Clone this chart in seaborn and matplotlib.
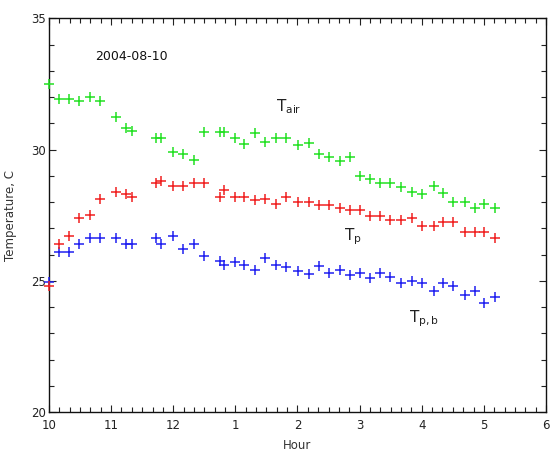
import numpy as np
import pandas as pd
import matplotlib
matplotlib.use("Agg")
import matplotlib.pyplot as plt
import seaborn as sns
from matplotlib.ticker import MultipleLocator

hours = [10.0, 10.16, 10.33, 10.49, 10.66, 10.82, 11.08, 11.24, 11.33, 11.72, 11.81,
         12.0, 12.16, 12.33, 12.5, 12.75, 12.82, 13.0, 13.14, 13.32, 13.48, 13.65,
         13.82, 14.01, 14.19, 14.35, 14.51, 14.68, 14.85, 15.0, 15.17, 15.33, 15.49,
         15.67, 15.84, 16.01, 16.19, 16.35, 16.51, 16.69, 16.85, 17.01, 17.18]

t_air = [32.5, 31.92, 31.92, 31.83, 32.02, 31.83, 31.23, 30.81, 30.71, 30.43, 30.43,
         29.92, 29.83, 29.6, 30.68, 30.68, 30.68, 30.43, 30.21, 30.62, 30.3, 30.43,
         30.43, 30.18, 30.26, 29.83, 29.71, 29.58, 29.73, 29.0, 28.87, 28.74, 28.72,
         28.59, 28.4, 28.31, 28.62, 28.34, 28.02, 28.02, 27.77, 27.93, 27.77]

t_p = [24.81, 26.41, 26.72, 27.39, 27.49, 28.11, 28.4, 28.31, 28.21, 28.72, 28.82,
       28.62, 28.62, 28.72, 28.72, 28.21, 28.44, 28.21, 28.21, 28.06, 28.11, 27.93,
       28.21, 28.02, 28.02, 27.9, 27.9, 27.77, 27.7, 27.7, 27.45, 27.45, 27.32,
       27.32, 27.39, 27.09, 27.09, 27.22, 27.22, 26.84, 26.84, 26.84, 26.63]

t_pb = [24.94, 26.09, 26.09, 26.41, 26.63, 26.63, 26.63, 26.41, 26.41, 26.63, 26.41,
        26.71, 26.21, 26.41, 25.93, 25.74, 25.61, 25.7, 25.61, 25.42, 25.86, 25.61,
        25.52, 25.39, 25.27, 25.57, 25.29, 25.42, 25.23, 25.29, 25.1, 25.29, 25.14,
        24.91, 25.01, 24.91, 24.6, 24.91, 24.81, 24.47, 24.6, 24.17, 24.4]

xtick_pos = [10, 11, 12, 13, 14, 15, 16, 17, 18]
xtick_labels = ["10", "11", "12", "1", "2", "3", "4", "5", "6"]
date_label = "2004-08-10"

df = pd.DataFrame({"hour": hours, "Tair": t_air, "Tp": t_p, "Tpb": t_pb})

sns.set_style("white")
plt.rcParams['font.family'] = ['DejaVu Sans']

fig = plt.figure(figsize=(5.51, 4.54), dpi=100)
ax = fig.add_axes([0.0889, 0.0925, 0.902, 0.8672])

green = "#22e022"
red = "#f02020"
blue = "#2020f0"

sns.scatterplot(data=df, x="hour", y="Tair", marker="+", s=50, color=green,
                linewidth=1.1, ax=ax, clip_on=False, zorder=3)
sns.scatterplot(data=df, x="hour", y="Tpb", marker="+", s=50, color=blue,
                linewidth=1.1, ax=ax, clip_on=False, zorder=3)
sns.scatterplot(data=df, x="hour", y="Tp", marker="+", s=50, color=red,
                linewidth=1.1, ax=ax, clip_on=False, zorder=3)

ax.set_xlim(10, 18)
ax.set_ylim(20, 35)
ax.set_xticks(xtick_pos)
ax.set_xticklabels(xtick_labels)
ax.set_yticks([20, 25, 30, 35])
ax.xaxis.set_minor_locator(MultipleLocator(1/6))
ax.yaxis.set_minor_locator(MultipleLocator(1))
ax.tick_params(which="both", direction="in", top=True, right=True,
               bottom=True, left=True, colors="#222222", labelsize=8.5,
               width=0.8)
ax.tick_params(axis="x", which="major", pad=5)
ax.tick_params(axis="y", which="major", pad=2)
ax.tick_params(which="major", length=5)
ax.tick_params(which="minor", length=3.5)
for s in ax.spines.values():
    s.set_color("#111111")
    s.set_linewidth(1.0)

ax.set_xlabel("Hour", fontsize=8.5, color="#333333", labelpad=5)
ax.set_ylabel("Temperature, C", fontsize=8.5, color="#333333", labelpad=10)

ax.text(10.74, 33.4, date_label, fontsize=9, color="#111111")
ax.text(13.65, 31.45, r"$\mathregular{T_{air}}$", fontsize=11, color="#222222")
ax.text(14.75, 26.55, r"$\mathregular{T_{p}}$", fontsize=11, color="#222222")
ax.text(15.8, 23.4, r"$\mathregular{T_{p,b}}$", fontsize=11, color="#222222")

fig.savefig("out.png", dpi=100)
